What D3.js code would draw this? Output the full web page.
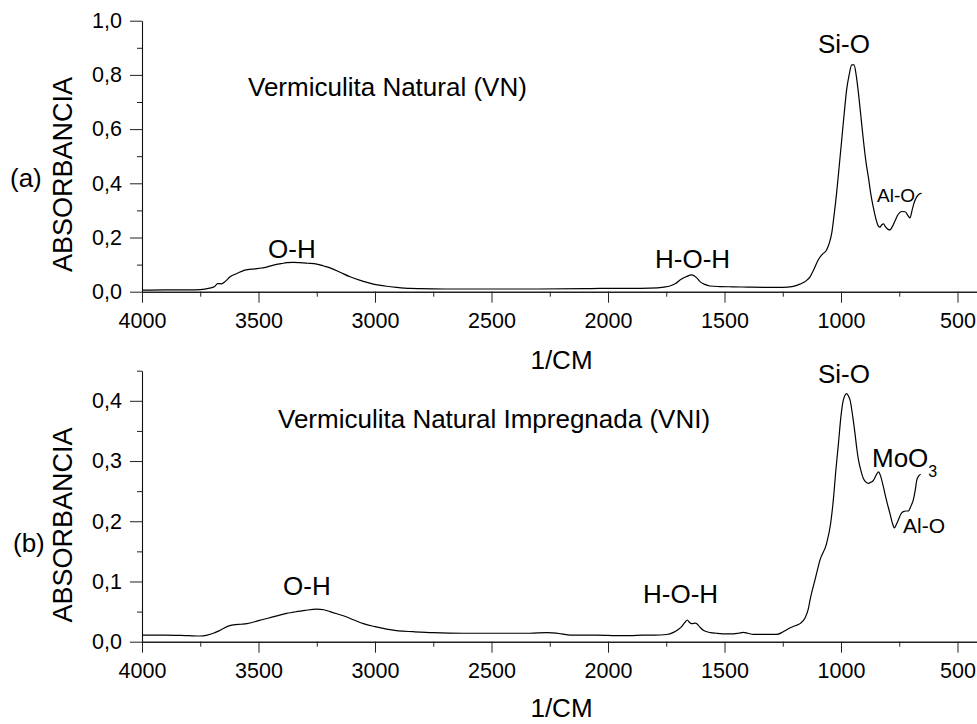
<!DOCTYPE html>
<html><head><meta charset="utf-8">
<script src="https://cdn.jsdelivr.net/npm/d3@7"></script>
<style>
body{margin:0;background:#fff;}
text{font-family:"Liberation Sans",Arial,sans-serif;fill:#000;}
</style></head>
<body><svg id="c" width="977" height="724"></svg>
<script>
// ---- data ----
const wnA = [4000,3900,3800,3750,3710,3690,3675,3660,3640,3622,3590,3565,3530,3500,3470,3436,3400,3379,3350,3322,3290,3250,3220,3193,3150,3107,3050,3007,2950,2907,2850,2807,2700,2500,2300,2100,2034,1900,1820,1760,1734,1710,1691,1665,1640,1620,1605,1585,1562,1520,1464,1400,1300,1249,1210,1176,1150,1133,1115,1098,1080,1062,1050,1040,1030,1019,1008,997,986,976,965,954,944,935,925,915,904,893,882,872,861,850,840,833,825,818,808,798,790,780,768,755,740,725,712,704,695,687,675,661,654];
const absA = [0.006,0.007,0.007,0.008,0.013,0.018,0.030,0.029,0.040,0.055,0.068,0.078,0.083,0.086,0.090,0.098,0.104,0.107,0.108,0.107,0.105,0.102,0.095,0.088,0.072,0.055,0.038,0.028,0.020,0.016,0.012,0.011,0.010,0.010,0.010,0.011,0.012,0.012,0.013,0.017,0.021,0.030,0.043,0.055,0.062,0.052,0.037,0.027,0.021,0.019,0.018,0.017,0.016,0.016,0.019,0.028,0.040,0.055,0.085,0.117,0.138,0.154,0.180,0.215,0.280,0.363,0.460,0.560,0.660,0.744,0.800,0.837,0.837,0.800,0.732,0.650,0.560,0.480,0.420,0.360,0.310,0.268,0.243,0.238,0.247,0.250,0.238,0.230,0.228,0.240,0.262,0.285,0.296,0.295,0.280,0.272,0.300,0.326,0.350,0.362,0.363];

const wnB = [4000,3900,3800,3750,3720,3694,3670,3651,3620,3607,3575,3550,3500,3460,3421,3380,3350,3300,3250,3220,3193,3160,3136,3090,3050,3000,2950,2900,2836,2750,2621,2500,2400,2335,2263,2200,2163,2100,2049,1950,1906,1850,1800,1748,1719,1700,1684,1670,1660,1650,1640,1625,1619,1605,1591,1560,1534,1490,1462,1440,1419,1400,1376,1300,1276,1250,1233,1200,1176,1155,1140,1133,1110,1090,1062,1045,1033,1022,1011,1000,990,976,968,961,950,940,932,925,915,904,893,882,870,861,850,839,830,818,805,790,778,771,762,754,743,733,720,711,700,690,680,675,665,658];
const absB = [0.011,0.011,0.010,0.0095,0.011,0.014,0.018,0.022,0.027,0.028,0.029,0.030,0.035,0.039,0.043,0.047,0.049,0.052,0.054,0.053,0.050,0.046,0.043,0.036,0.030,0.025,0.021,0.018,0.0166,0.015,0.014,0.014,0.014,0.014,0.015,0.013,0.011,0.011,0.011,0.010,0.010,0.011,0.011,0.012,0.0155,0.020,0.025,0.032,0.036,0.032,0.030,0.031,0.030,0.024,0.019,0.015,0.014,0.013,0.013,0.014,0.0155,0.014,0.012,0.012,0.012,0.016,0.020,0.026,0.030,0.039,0.055,0.069,0.105,0.136,0.163,0.195,0.235,0.285,0.329,0.375,0.401,0.412,0.408,0.401,0.375,0.346,0.320,0.302,0.285,0.271,0.265,0.263,0.265,0.268,0.276,0.282,0.275,0.257,0.235,0.213,0.195,0.189,0.195,0.202,0.212,0.216,0.217,0.217,0.225,0.235,0.255,0.268,0.276,0.278];

const xMajor = [4000,3500,3000,2500,2000,1500,1000,500];
const xMinor = [3750,3250,2750,2250,1750,1250,750];
const yMajorA = [0,0.2,0.4,0.6,0.8,1.0];
const yMinorA = [0.1,0.3,0.5,0.7,0.9];
const yMajorB = [0,0.1,0.2,0.3,0.4];
const yMinorB = [0.05,0.15,0.25,0.35,0.45];

// ---- drawing ----
const svg = d3.select("#c");
const fmt = d => d.toFixed(1).replace(".", ",");

function panel(cfg){
  const g = svg.append("g");
  const x = d3.scaleLinear().domain([4000,400]).range([142,980.8]);
  const y = d3.scaleLinear().domain(cfg.ydom).range([cfg.y0, cfg.y1]);
  // x axis
  const xa = g.append("g").attr("transform",`translate(0,${cfg.y0})`)
    .call(d3.axisBottom(x).tickValues(xMajor).tickSize(11).tickSizeOuter(0).tickPadding(10).tickFormat(d3.format("d")));
  xa.select(".domain").attr("stroke","#222").attr("stroke-width",1.4);
  xa.selectAll("text").attr("font-size","21.5px").attr("font-family","Liberation Sans, Arial, sans-serif");
  xa.selectAll(".tick line").attr("stroke","#222");
  const xm = g.append("g").attr("transform",`translate(0,${cfg.y0})`)
    .call(d3.axisBottom(x).tickValues(xMinor).tickSize(5).tickFormat(""));
  xm.select(".domain").remove();
  xm.selectAll(".tick line").attr("stroke","#222");
  // y axis
  const ya = g.append("g").attr("transform","translate(142,0)")
    .call(d3.axisLeft(y).tickValues(cfg.yMajor).tickSize(12).tickSizeOuter(0).tickPadding(8).tickFormat(fmt));
  ya.select(".domain").attr("stroke","#111").attr("stroke-width",1.1);
  ya.selectAll("text").attr("font-size","21.5px").attr("font-family","Liberation Sans, Arial, sans-serif");
  ya.selectAll(".tick line").attr("stroke","#222");
  const ym = g.append("g").attr("transform","translate(142,0)")
    .call(d3.axisLeft(y).tickValues(cfg.yMinor).tickSize(5).tickFormat(""));
  ym.select(".domain").remove();
  ym.selectAll(".tick line").attr("stroke","#222");
  // line
  const pts = cfg.wn.map((w,i)=>[w,cfg.ab[i]]);
  g.append("path").datum(pts)
    .attr("fill","none").attr("stroke","#000").attr("stroke-width",1.2)
    .attr("d", d3.line().x(d=>x(d[0])).y(d=>y(d[1])).curve(d3.curveMonotoneX));
  // axis titles
  g.append("text").attr("transform",`translate(72,${cfg.ytitleY}) rotate(-90)`)
    .attr("text-anchor","middle").attr("font-size","27px").text("ABSORBANCIA");
  g.append("text").attr("x",561.5).attr("y",cfg.xtitleY).attr("text-anchor","middle")
    .attr("font-size","26px").text("1/CM");
  return {g,x,y};
}

const A = panel({ydom:[0,1], y0:291.7, y1:20.7, yMajor:yMajorA, yMinor:yMinorA, wn:wnA, ab:absA, ytitleY:174.5, xtitleY:369});
const B = panel({ydom:[0,0.45], y0:641.7, y1:370.7, yMajor:yMajorB, yMinor:yMinorB, wn:wnB, ab:absB, ytitleY:525, xtitleY:717});

function lab(x,y,s,t){ svg.append("text").attr("x",x).attr("y",y).attr("font-size",s+"px").text(t); }
// panel a annotations
lab(10,187,26,"(a)");
lab(248,96,26,"Vermiculita Natural (VN)");
lab(268,258,26,"O-H");
lab(655,268,26,"H-O-H");
lab(818,53,26,"Si-O");
lab(877,202,19,"Al-O");
// panel b annotations
lab(13,552,26,"(b)");
lab(278,428,26,"Vermiculita Natural Impregnada (VNI)");
lab(283,595,26,"O-H");
lab(643,603,26,"H-O-H");
lab(818,383,26,"Si-O");
const mo = svg.append("text").attr("x",872).attr("y",467).attr("font-size","26px");
mo.append("tspan").text("MoO");
mo.append("tspan").attr("font-size","16px").attr("dy",10).text("3");
lab(903,533,21,"Al-O");
</script></body></html>
